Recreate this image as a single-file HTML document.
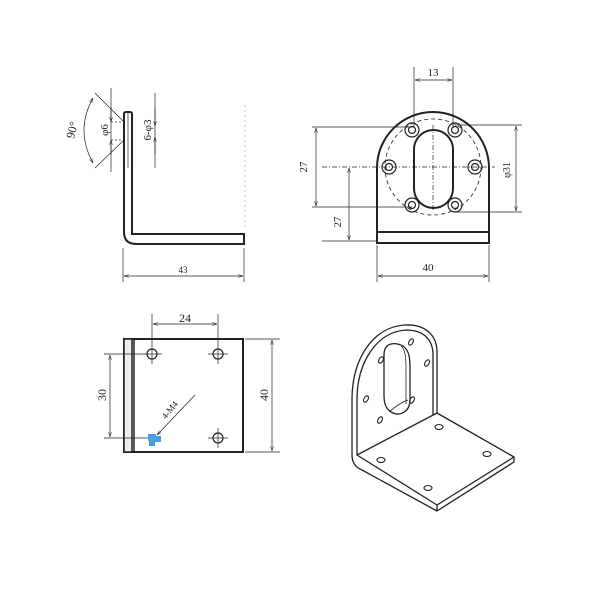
<!DOCTYPE html>
<html><head><style>html,body{margin:0;padding:0;background:#fff}svg{display:block}text{font-family:"Liberation Serif",serif;fill:#222}</style></head><body>
<svg width="600" height="600" viewBox="0 0 600 600" xmlns="http://www.w3.org/2000/svg">
<defs><marker id="a" viewBox="0 0 10 10" refX="10" refY="5" markerWidth="7" markerHeight="7" orient="auto-start-reverse"><path d="M0,2 L10,5 L0,8" fill="none" stroke="#222" stroke-width="1"/></marker></defs>
<g fill="none" stroke="#222" stroke-width="1">
<!-- side view -->
<path d="M124,114 Q124,112 126,112 L130,112 Q132,112 132,114 L132,234 L244,234 L244,244 L136,244 Q124,244 124,232 Z" stroke-width="2"/>
<line x1="128" y1="112" x2="128" y2="168" stroke-width="0.7"/>
<line x1="111" y1="88" x2="111" y2="172" stroke-width="0.7"/>
<line x1="155" y1="93" x2="155" y2="168" stroke-width="0.7"/>
<line x1="111" y1="122" x2="124" y2="122" stroke-dasharray="2,2" stroke-width="0.7"/>
<line x1="111" y1="140" x2="124" y2="140" stroke-dasharray="2,2" stroke-width="0.7"/>
<line x1="95" y1="93" x2="124" y2="122" stroke-width="0.7"/>
<line x1="95" y1="168" x2="124" y2="140" stroke-width="0.7"/>
<path d="M93,98 Q75,130 93,163" stroke-width="0.7" marker-start="url(#a)" marker-end="url(#a)"/>
<line x1="111" y1="108" x2="111" y2="122" marker-end="url(#a)" stroke-width="0.7"/>
<line x1="111" y1="154" x2="111" y2="140" marker-end="url(#a)" stroke-width="0.7"/>
<line x1="155" y1="108" x2="155" y2="126" marker-end="url(#a)" stroke-width="0.7"/>
<line x1="155" y1="154" x2="155" y2="137" marker-end="url(#a)" stroke-width="0.7"/>
<line x1="123" y1="248" x2="123" y2="282" stroke-width="0.7"/>
<line x1="244" y1="248" x2="244" y2="282" stroke-width="0.7"/>
<line x1="124" y1="276" x2="243" y2="276" marker-start="url(#a)" marker-end="url(#a)" stroke-width="0.7"/>
<line x1="245" y1="105" x2="245" y2="230" stroke="#ccc" stroke-dasharray="2,3"/>
<!-- front view -->
<path d="M377,243 L377,168 A56,56 0 0 1 489,168 L489,243 Z" stroke-width="2"/>
<line x1="377" y1="232" x2="489" y2="232" stroke-width="2"/>
<circle cx="433" cy="167" r="48" stroke-dasharray="4,3" stroke-width="0.8"/>
<rect x="414" y="130" width="39" height="78" rx="19.5" stroke-width="2"/>
<line x1="433" y1="125" x2="433" y2="212" stroke-dasharray="5,2,1,2" stroke-width="0.7"/>
<line x1="322" y1="167" x2="495" y2="167" stroke-dasharray="5,2,1,2" stroke-width="0.7"/>
<g stroke-width="1.2">
<circle cx="412" cy="130" r="7"/><circle cx="412" cy="130" r="3.5"/>
<circle cx="455" cy="130" r="7"/><circle cx="455" cy="130" r="3.5"/>
<circle cx="389" cy="167" r="7"/><circle cx="389" cy="167" r="3.5"/>
<circle cx="475" cy="167" r="7"/><circle cx="475" cy="167" r="3.5"/>
<circle cx="412" cy="205" r="7"/><circle cx="412" cy="205" r="3.5"/>
<circle cx="455" cy="205" r="7"/><circle cx="455" cy="205" r="3.5"/>
</g>
<line x1="414" y1="67" x2="414" y2="128" stroke-width="0.7"/>
<line x1="453" y1="67" x2="453" y2="128" stroke-width="0.7"/>
<line x1="415" y1="80" x2="452" y2="80" marker-start="url(#a)" marker-end="url(#a)" stroke-width="0.7"/>
<line x1="312" y1="127" x2="412" y2="127" stroke-width="0.7"/>
<line x1="312" y1="207" x2="412" y2="207" stroke-width="0.7"/>
<line x1="316" y1="128" x2="316" y2="206" marker-start="url(#a)" marker-end="url(#a)" stroke-width="0.7"/>
<line x1="322" y1="241" x2="377" y2="241" stroke-width="0.7"/>
<line x1="349" y1="168" x2="349" y2="240" marker-start="url(#a)" marker-end="url(#a)" stroke-width="0.7"/>
<line x1="455" y1="125" x2="522" y2="125" stroke-width="0.7"/>
<line x1="455" y1="212" x2="522" y2="212" stroke-width="0.7"/>
<line x1="516" y1="126" x2="516" y2="211" marker-start="url(#a)" marker-end="url(#a)" stroke-width="0.7"/>
<line x1="377" y1="245" x2="377" y2="282" stroke-width="0.7"/>
<line x1="489" y1="245" x2="489" y2="282" stroke-width="0.7"/>
<line x1="378" y1="276" x2="488" y2="276" marker-start="url(#a)" marker-end="url(#a)" stroke-width="0.7"/>
<!-- plate view -->
<rect x="124" y="339" width="119" height="113" stroke-width="2"/>
<rect x="124" y="339" width="8" height="113" fill="#eee" stroke-width="1.5"/>
<line x1="134" y1="339" x2="134" y2="452" stroke-width="1.5"/>
<g stroke-width="1.2">
<circle cx="152" cy="354" r="5"/><circle cx="218" cy="354" r="5"/><circle cx="218" cy="438" r="5"/>
</g>
<g stroke-width="0.7">
<line x1="142" y1="354" x2="162" y2="354"/><line x1="152" y1="344" x2="152" y2="364"/>
<line x1="208" y1="354" x2="228" y2="354"/><line x1="218" y1="344" x2="218" y2="364"/>
<line x1="208" y1="438" x2="228" y2="438"/><line x1="218" y1="428" x2="218" y2="448"/>
<line x1="152" y1="314" x2="152" y2="344"/><line x1="218" y1="314" x2="218" y2="344"/>
<line x1="153" y1="324" x2="217" y2="324" marker-start="url(#a)" marker-end="url(#a)"/>
<line x1="104" y1="354" x2="142" y2="354"/><line x1="104" y1="438" x2="150" y2="438"/>
<line x1="110" y1="355" x2="110" y2="437" marker-start="url(#a)" marker-end="url(#a)"/>
<line x1="245" y1="339" x2="280" y2="339"/><line x1="245" y1="452" x2="280" y2="452"/>
<line x1="272" y1="340" x2="272" y2="451" marker-start="url(#a)" marker-end="url(#a)"/>
<line x1="195" y1="395" x2="157" y2="435" marker-end="url(#a)"/>
</g>
<g fill="#4a9fe0" stroke="none"><rect x="148" y="434" width="8" height="7"/><rect x="155" y="436" width="6" height="6"/><rect x="149" y="441" width="6" height="5"/></g>
<!-- isometric -->
<g stroke-width="1.3" stroke-linejoin="round">
<path d="M352,400 C352,360 372,327 405,325 C425,324 437,335 437,352 L437,413" />
<path d="M357,400 C357,363 376,332 406,330 C424,330 433,340 433,355 L433,415"/>
<line x1="352" y1="400" x2="352" y2="455"/>
<line x1="357" y1="400" x2="357" y2="455"/>
<path d="M357,455 L437,413 L514,457 L437,505 Z" fill="#fff"/>
<path d="M514,457 L514,462 L437,511 L437,505"/>
<path d="M352,455 Q352,466 362,470 L437,511"/>
<path d="M384,355 C384,342 395,342 403,346 C410,351 410,360 410,370 L410,400 C410,412 400,416 393,413 C386,410 384,404 384,395 Z"/>
<path d="M401,346 C406,350 406,360 406,370 L406,404" stroke-width="0.8"/>
<path d="M389,412 C396,406 402,402 408,400" stroke-width="0.8"/>
</g>
<g stroke-width="1.1">
<ellipse cx="411" cy="342" rx="2" ry="3.5" transform="rotate(30 411 342)"/>
<ellipse cx="381" cy="360" rx="2" ry="3.5" transform="rotate(30 381 360)"/>
<ellipse cx="427" cy="363" rx="2" ry="3.5" transform="rotate(30 427 363)"/>
<ellipse cx="366" cy="399" rx="2" ry="3.5" transform="rotate(30 366 399)"/>
<ellipse cx="412" cy="400" rx="2" ry="3.5" transform="rotate(30 412 400)"/>
<ellipse cx="380" cy="420" rx="2" ry="3.5" transform="rotate(30 380 420)"/>
<ellipse cx="439" cy="427" rx="4" ry="2.5"/>
<ellipse cx="381" cy="460" rx="4" ry="2.5"/>
<ellipse cx="487" cy="454" rx="4" ry="2.5"/>
<ellipse cx="428" cy="488" rx="4" ry="2.5"/>
</g>
</g>
<g font-size="11">
<text x="183" y="273" text-anchor="middle" font-size="9">43</text>
<text x="433" y="76" text-anchor="middle">13</text>
<text x="428" y="271" text-anchor="middle">40</text>
<text x="185" y="322" text-anchor="middle" font-size="12">24</text>
<text transform="translate(307,167) rotate(-90)" text-anchor="middle">27</text>
<text transform="translate(341,222) rotate(-90)" text-anchor="middle">27</text>
<text transform="translate(510,170) rotate(-90)" text-anchor="middle" font-size="10">φ31</text>
<text transform="translate(106,395) rotate(-90)" text-anchor="middle" font-size="12">30</text>
<text transform="translate(268,395) rotate(-90)" text-anchor="middle" font-size="12">40</text>
<text transform="translate(172,412) rotate(-50)" text-anchor="middle" font-size="9">4-M4</text>
<text transform="translate(76,131) rotate(-75)" text-anchor="middle" font-size="12">90°</text>
<text transform="translate(108,130) rotate(-90)" text-anchor="middle" font-size="11">φ6</text>
<text transform="translate(151,130) rotate(-90)" text-anchor="middle" font-size="11">6-φ3</text>
</g>
</svg>
</body></html>
